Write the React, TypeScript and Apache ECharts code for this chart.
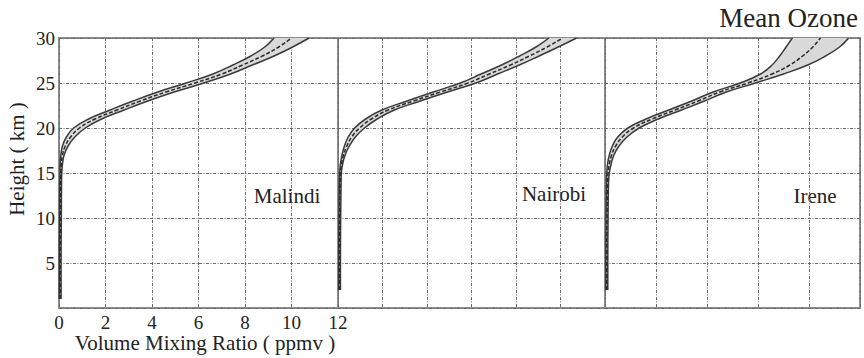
import React, { useEffect, useRef } from "react";
import * as echarts from "echarts";

// Heights (km) for each station profile
const malindiHeights = [1, 5, 10, 14, 15, 16, 17, 18, 19, 20, 21, 22, 23, 24, 25, 26, 27, 28, 29, 30];
const nairobiHeights = [2, 5, 10, 14, 15, 16, 17, 18, 19, 20, 21, 22, 23, 24, 25, 26, 27, 28, 29, 30];
const ireneHeights = [2, 5, 10, 14, 15, 16, 17, 18, 19, 20, 21, 22, 23, 24, 25, 26, 27, 28, 29, 30];

// Mean ozone mixing ratio (ppmv)
const malindiMean = [0.05, 0.05, 0.06, 0.07, 0.08, 0.1, 0.15, 0.27, 0.5, 0.88, 1.55, 2.5, 3.5, 4.6, 5.85, 7.0, 7.9, 8.75, 9.45, 10.0];
const nairobiMean = [0.07, 0.07, 0.08, 0.1, 0.11, 0.16, 0.25, 0.4, 0.62, 0.97, 1.5, 2.25, 3.4, 4.6, 5.85, 6.8, 7.75, 8.6, 9.4, 10.1];
const ireneMean = [0.07, 0.07, 0.08, 0.1, 0.12, 0.17, 0.26, 0.42, 0.68, 1.12, 1.85, 2.75, 3.65, 4.5, 5.6, 6.55, 7.25, 7.75, 8.15, 8.45];

// Spread (half-width of shaded band, ppmv)
const malindiSpread = [0.04, 0.04, 0.04, 0.04, 0.04, 0.05, 0.07, 0.12, 0.18, 0.25, 0.28, 0.3, 0.32, 0.35, 0.38, 0.38, 0.42, 0.5, 0.6, 0.75];
const nairobiSpread = [0.04, 0.04, 0.04, 0.04, 0.04, 0.05, 0.07, 0.11, 0.16, 0.22, 0.26, 0.28, 0.3, 0.32, 0.35, 0.37, 0.4, 0.44, 0.5, 0.62];
const ireneSpread = [0.04, 0.04, 0.04, 0.04, 0.05, 0.07, 0.09, 0.13, 0.18, 0.22, 0.24, 0.25, 0.25, 0.26, 0.3, 0.45, 0.7, 0.9, 1.05, 1.1];

const stations = ["Malindi", "Nairobi", "Irene"];
const xMax = [12, 12, 10];
const yTicks = [5, 10, 15, 20, 25, 30];

const FONT = "Liberation Serif";

export default function App() {
  const ref = useRef<HTMLDivElement>(null);

  useEffect(() => {
    if (!ref.current) return;
    const chart = echarts.init(ref.current, undefined, { renderer: "svg" });

    const profiles = [
      { h: malindiHeights, m: malindiMean, s: malindiSpread },
      { h: nairobiHeights, m: nairobiMean, s: nairobiSpread },
      { h: ireneHeights, m: ireneMean, s: ireneSpread },
    ];

    const grids = [
      { left: 59, top: 38, width: 279, height: 270 },
      { left: 338, top: 38, width: 267, height: 270 },
      { left: 605, top: 38, width: 255, height: 270 },
    ].map((g) => ({
      ...g,
      show: true,
      borderColor: "#8c8c8c",
      borderWidth: 2,
      backgroundColor: "#ffffff",
    }));

    const gridLine = { color: "#6a6a6a", width: 1, type: [3, 1.5, 1, 1.5] as any };

    const xAxes = [0, 1, 2].map((i) => ({
      type: "value",
      gridIndex: i,
      min: 0,
      max: xMax[i],
      interval: 2,
      axisLine: { show: false },
      axisTick: { show: false },
      axisLabel: {
        show: i === 0,
        color: "#222",
        fontFamily: FONT,
        fontSize: 19,
        margin: 5,
      },
      splitLine: { show: true, lineStyle: gridLine },
    }));

    const yAxes = [0, 1, 2].map((i) => ({
      type: "value",
      gridIndex: i,
      min: 0,
      max: 30,
      interval: 5,
      axisLine: { show: false },
      axisTick: { show: false },
      axisLabel: {
        show: i === 0,
        color: "#222",
        fontFamily: FONT,
        fontSize: 19,
        margin: 4,
        formatter: (v: number) => (yTicks.includes(v) ? String(v) : ""),
      },
      splitLine: { show: true, lineStyle: gridLine },
    }));

    const series: any[] = [];
    profiles.forEach((p, i) => {
      const lower = p.m.map((v, k) => [v - p.s[k], p.h[k]]);
      const upper = p.m.map((v, k) => [v + p.s[k], p.h[k]]);
      const mean = p.m.map((v, k) => [v, p.h[k]]);
      series.push({
        type: "custom",
        xAxisIndex: i,
        yAxisIndex: i,
        silent: true,
        clip: true,
        data: [[0, 0]],
        renderItem: (_params: any, api: any) => {
          const pts = [
            ...lower.map((d) => api.coord(d)),
            ...upper
              .slice()
              .reverse()
              .map((d) => api.coord(d)),
          ];
          return {
            type: "polygon",
            shape: { points: pts, smooth: 0.4 },
            style: { fill: "#d9d9d9", stroke: "none" },
          };
        },
      });
      const lineBase = {
        type: "line",
        xAxisIndex: i,
        yAxisIndex: i,
        symbol: "none",
        smooth: 0.45,
        silent: true,
        clip: true,
      };
      series.push({ ...lineBase, data: lower, lineStyle: { color: "#3a3a3a", width: 1.5 } });
      series.push({ ...lineBase, data: upper, lineStyle: { color: "#3a3a3a", width: 1.5 } });
      series.push({ ...lineBase, data: mean, lineStyle: { color: "#2a2a2a", width: 1.5, type: [4, 2] } });
    });

    const labelPos = [
      { x: 287, y: 196 },
      { x: 554, y: 194 },
      { x: 815, y: 196 },
    ];

    chart.setOption({
      animation: false,
      grid: grids,
      xAxis: xAxes,
      yAxis: yAxes,
      series,
      graphic: [
        ...stations.map((s, i) => ({
          type: "text",
          x: labelPos[i].x,
          y: labelPos[i].y,
          style: {
            text: s,
            fontFamily: FONT,
            fontSize: 21,
            fill: "#222",
            align: "center",
            verticalAlign: "middle",
          },
        })),
        {
          type: "text",
          x: 858,
          y: 18,
          style: {
            text: "Mean Ozone",
            fontFamily: FONT,
            fontSize: 27,
            fill: "#222",
            align: "right",
            verticalAlign: "middle",
          },
        },
        {
          type: "text",
          x: 205,
          y: 343,
          style: {
            text: "Volume Mixing Ratio ( ppmv )",
            fontFamily: FONT,
            fontSize: 21,
            fill: "#222",
            align: "center",
            verticalAlign: "middle",
          },
        },
        {
          type: "text",
          x: 17,
          y: 159,
          rotation: Math.PI / 2,
          style: {
            text: "Height ( km )",
            fontFamily: FONT,
            fontSize: 21,
            fill: "#222",
            align: "center",
            verticalAlign: "middle",
          },
        },
      ],
    });

    return () => chart.dispose();
  }, []);

  return (
    <div
      ref={ref}
      style={{ position: "fixed", left: 0, top: 0, width: 864, height: 358, background: "#fff" }}
    />
  );
}
